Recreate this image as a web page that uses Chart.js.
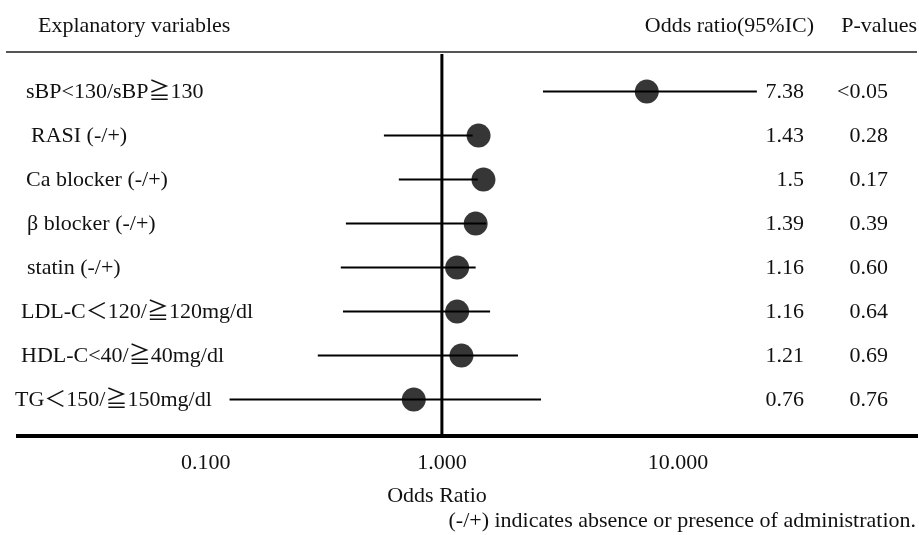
<!DOCTYPE html>
<html>
<head>
<meta charset="utf-8">
<script src="https://cdn.jsdelivr.net/npm/chart.js@4.4.0/dist/chart.umd.min.js"></script>
<style>
body { margin: 0; background: #fff; }
</style>
</head>
<body>
<canvas id="forest" width="919" height="535"></canvas>
<script>
const variables = ['sBP<130/sBP≧130', 'RASI (-/+)', 'Ca blocker (-/+)', 'β blocker (-/+)', 'statin (-/+)',
  'LDL-C＜120/≧120mg/dl', 'HDL-C<40/≧40mg/dl', 'TG＜150/≧150mg/dl']
const oddsRatio = [7.38, 1.43, 1.5, 1.39, 1.16, 1.16, 1.21, 0.76]
const ciLow = [2.68, 0.568, 0.657, 0.392, 0.373, 0.381, 0.298, 0.126]
const ciHigh = [21.6, 1.35, 1.42, 1.54, 1.39, 1.60, 2.10, 2.63]
const pValues = ['<0.05', '0.28', '0.17', '0.39', '0.60', '0.64', '0.69', '0.76']
const xTicks = [0.1, 1, 10]

const serif = "'Liberation Serif', 'Times New Roman', 'Noto Sans CJK JP', serif"
const font22 = '22px ' + serif

// one horizontal segment per row for the confidence interval
var ciSets = []
for (let i = 0; i < variables.length; i++) {
  ciSets.push({
    type: 'line',
    data: [{x: ciLow[i], y: i}, {x: ciHigh[i], y: i}],
    borderColor: '#000',
    borderWidth: 2,
    pointRadius: 0
  })
}

var dots = {
  type: 'scatter',
  data: oddsRatio.map((v, i) => ({x: v, y: i})),
  backgroundColor: '#363636',
  borderWidth: 0,
  pointRadius: 12
}

// left-hand label indents
const indent = [26, 31, 26, 27, 27, 21, 21, 15]

const tableText = {
  id: 'tableText',
  beforeDatasetsDraw(chart) {
    const ctx = chart.ctx, area = chart.chartArea
    const x1 = chart.scales.x.getPixelForValue(1)
    ctx.save()
    ctx.strokeStyle = '#000'
    ctx.lineWidth = 3
    ctx.beginPath()
    ctx.moveTo(x1, area.top)
    ctx.lineTo(x1, area.bottom)
    ctx.stroke()
    ctx.restore()
  },
  afterDraw(chart) {
    const ctx = chart.ctx
    const yScale = chart.scales.y
    ctx.save()
    ctx.fillStyle = '#111'
    ctx.font = font22
    ctx.textBaseline = 'middle'

    // header row and rule under it
    ctx.textAlign = 'left'
    ctx.fillText('Explanatory variables', 38, 26)
    ctx.textAlign = 'right'
    ctx.fillText('Odds ratio(95%IC)', 814, 26)
    ctx.fillText('P-values', 917, 26)
    ctx.strokeStyle = '#555'
    ctx.lineWidth = 2
    ctx.beginPath()
    ctx.moveTo(6, 52)
    ctx.lineTo(917, 52)
    ctx.stroke()

    for (let i = 0; i < variables.length; i++) {
      const y = yScale.getPixelForValue(i)
      ctx.textAlign = 'left'
      ctx.fillText(variables[i], indent[i], y + 1)
      ctx.textAlign = 'right'
      ctx.fillText(String(oddsRatio[i]), 804, y + 1)
      ctx.fillText(pValues[i], 888, y + 1)
    }

    // axis title sits a little left of the axis centre
    ctx.textAlign = 'center'
    ctx.fillText('Odds Ratio', 437, 496)
    ctx.textAlign = 'right'
    ctx.fillText('(-/+) indicates absence or presence of administration.', 916, 521)
    ctx.restore()
  }
}

var ctx = document.getElementById('forest').getContext('2d')
var forest = new Chart(ctx, {
  type: 'scatter',
  data: {
    datasets: ciSets.concat([dots])
  },
  options: {
    responsive: false,
    animation: false,
    layout: {
      autoPadding: false,
      padding: {left: 18, right: 2, top: 54, bottom: 0}
    },
    plugins: {
      legend: {display: false},
      tooltip: {enabled: false}
    },
    scales: {
      x: {
        type: 'logarithmic',
        bounds: 'data',
        min: 0.016,
        max: 103,
        afterBuildTicks: (scale) => {
          scale.ticks = xTicks.map(v => ({value: v}))
        },
        afterFit: (scale) => {
          scale.height = 99
        },
        grid: {display: false},
        border: {display: true, color: '#000', width: 4},
        ticks: {
          autoSkip: false,
          maxRotation: 0,
          padding: 6,
          color: '#111',
          font: {family: serif, size: 22},
          callback: (v) => Number(v).toFixed(3)
        }
      },
      y: {
        type: 'linear',
        display: false,
        reverse: true,
        min: -0.855,
        max: 7.827
      }
    }
  },
  plugins: [tableText]
})
</script>
</body>
</html>
